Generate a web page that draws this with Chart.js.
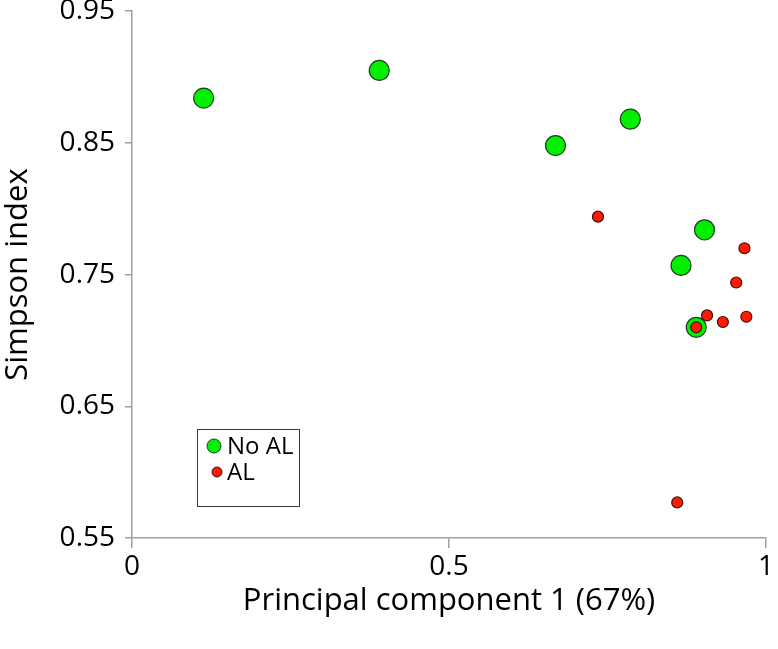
<!DOCTYPE html>
<html>
<head>
<meta charset="utf-8">
<script src="https://cdn.jsdelivr.net/npm/chart.js@4/dist/chart.umd.min.js"></script>
<style>
  html, body { margin: 0; padding: 0; background: #fff; }
</style>
</head>
<body>
<canvas id="myChart" width="778" height="649"></canvas>
<script>
// values
const seriesNames = ["No AL", "AL"];

const noAlX = [0.113, 0.390, 0.668, 0.786, 0.903, 0.866, 0.890];
const noAlY = [0.884, 0.905, 0.848, 0.868, 0.784, 0.757, 0.710];

const alX = [0.735, 0.966, 0.953, 0.969, 0.907, 0.932, 0.890, 0.860];
const alY = [0.794, 0.770, 0.744, 0.718, 0.719, 0.714, 0.710, 0.577];

const xTicks = [0, 0.5, 1];
const yTicks = [0.55, 0.65, 0.75, 0.85, 0.95];

const FONT = "'Open Sans', 'DejaVu Sans', sans-serif";

function toPoints(xs, ys) {
  return xs.map((x, i) => ({ x: x, y: ys[i] }));
}

// legend box sitting inside the plot, lower left
const boxLegend = {
  id: "boxLegend",
  afterDatasetsDraw(chart) {
    const ctx = chart.ctx;
    const ds = chart.data.datasets;
    ctx.save();
    ctx.strokeStyle = "#3a3a3a";
    ctx.lineWidth = 1;
    ctx.strokeRect(197.5, 429.5, 102, 77);
    const rows = [
      { d: ds[0], x: 214, y: 446, r: 7 },
      { d: ds[1], x: 217, y: 472, r: 5 }
    ];
    rows.forEach(function(row) {
      ctx.beginPath();
      ctx.arc(row.x, row.y, row.r, 0, Math.PI * 2);
      ctx.fillStyle = row.d.backgroundColor;
      ctx.fill();
      ctx.strokeStyle = row.d.borderColor;
      ctx.lineWidth = 1;
      ctx.stroke();
      ctx.fillStyle = "#000";
      ctx.font = "24px " + FONT;
      ctx.textBaseline = "middle";
      ctx.textAlign = "left";
      ctx.fillText(row.d.label, 227, row.y + 1);
    });
    ctx.restore();
  }
};

const ctx = document.getElementById("myChart");
new Chart(ctx, {
  type: "scatter",
  data: {
    datasets: [{
      label: seriesNames[0],
      data: toPoints(noAlX, noAlY),
      backgroundColor: "#00f000",
      borderColor: "#1f3f1f",
      borderWidth: 1.2,
      pointRadius: 10,
      order: 2
    }, {
      label: seriesNames[1],
      data: toPoints(alX, alY),
      backgroundColor: "#ff1a00",
      borderColor: "#3d1010",
      borderWidth: 1.2,
      pointRadius: 5.5,
      order: 1
    }]
  },
  plugins: [boxLegend],
  options: {
    responsive: false,
    animation: false,
    layout: { padding: { left: 0, right: 12, top: 10, bottom: 0 } },
    plugins: {
      legend: { display: false },
      tooltip: { enabled: false }
    },
    scales: {
      x: {
        type: "linear",
        min: 0,
        max: 1,
        afterBuildTicks: function(scale) {
          scale.ticks = xTicks.map(v => ({ value: v }));
        },
        afterFit: function(scale) {
          scale.height = 111;
          scale.paddingLeft = 0;
          scale.paddingRight = 0;
        },
        grid: { drawOnChartArea: false, drawTicks: true, tickLength: 10, color: "#a0a0a0", lineWidth: 1.5 },
        border: { color: "#a0a0a0", width: 1.5 },
        ticks: {
          color: "#000",
          padding: 2,
          font: { family: FONT, size: 28 },
          callback: v => String(v)
        },
        title: {
          display: true,
          text: "Principal component 1 (67%)",
          color: "#000",
          font: { family: FONT, size: 31 },
          padding: { top: 0, bottom: 29 }
        }
      },
      y: {
        type: "linear",
        min: 0.55,
        max: 0.95,
        afterBuildTicks: function(scale) {
          scale.ticks = yTicks.map(v => ({ value: v }));
        },
        afterFit: function(scale) {
          scale.width = 132;
          scale.paddingTop = 0;
          scale.paddingBottom = 0;
        },
        grid: { drawOnChartArea: false, drawTicks: true, tickLength: 7, color: "#a0a0a0", lineWidth: 1.5 },
        border: { color: "#a0a0a0", width: 1.5 },
        ticks: {
          color: "#000",
          padding: 10,
          font: { family: FONT, size: 28 },
          callback: v => v.toFixed(2)
        },
        title: {
          display: true,
          text: "Simpson index",
          color: "#000",
          font: { family: FONT, size: 31 },
          padding: { top: 0, bottom: 0 }
        }
      }
    }
  }
});
</script>
</body>
</html>
